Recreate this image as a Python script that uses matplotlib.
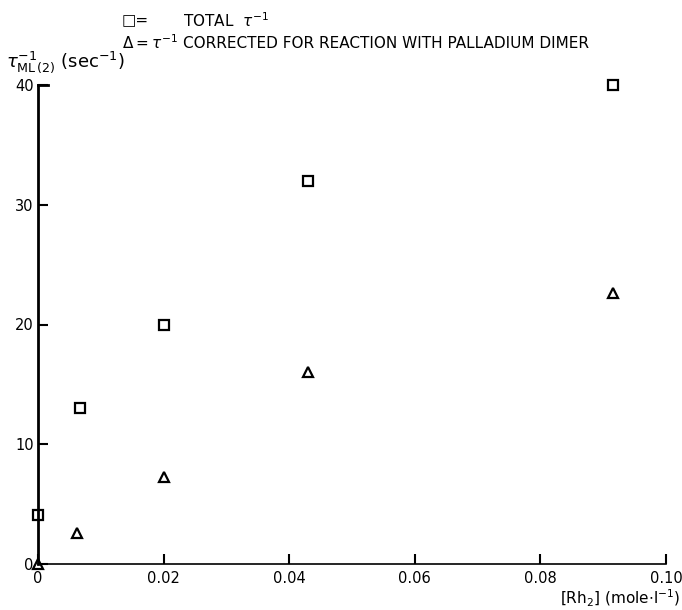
import matplotlib.pyplot as plt

# data
conc_total = [0.0, 0.0067, 0.020, 0.043, 0.0915]
rate_total = [4.1, 13.0, 20.0, 32.0, 40.0]

conc_corr = [0.0, 0.0062, 0.020, 0.043, 0.0915]
rate_corr = [0.0, 2.6, 7.3, 16.0, 22.6]

xticks = [0, 0.02, 0.04, 0.06, 0.08, 0.10]
xticklabels = ["0", "0.02", "0.04", "0.06", "0.08", "0.10"]
yticks = [0, 10, 20, 30, 40]

plt.rcParams['font.family'] = ['DejaVu Sans']

W, H = 682, 610
fig = plt.figure(figsize=(6.82, 6.10), dpi=100)
ax = fig.add_axes([38/W, 1 - 564/H, (666 - 38)/W, (564 - 85)/H])

ax.plot(conc_total, rate_total, linestyle='none', marker='s', markersize=7.5,
        markerfacecolor='white', markeredgecolor='black', markeredgewidth=1.6, clip_on=False)
ax.plot(conc_corr, rate_corr, linestyle='none', marker='^', markersize=7.5,
        markerfacecolor='white', markeredgecolor='black', markeredgewidth=1.6, clip_on=False)

ax.set_xlim(0, 0.10)
ax.set_ylim(0, 40)
ax.spines['top'].set_visible(False)
ax.spines['right'].set_visible(False)
ax.spines['left'].set_linewidth(2)
ax.spines['bottom'].set_linewidth(1.2)

ax.set_xticks(xticks)
ax.set_xticklabels(xticklabels)
ax.set_yticks(yticks)
ax.tick_params(direction='in', length=7, width=1.5, labelsize=10.5)
ax.tick_params(axis='x', pad=5)
ax.tick_params(axis='y', pad=3)

# little hook at the top of the y axis
ax.plot([0, 0.0016], [40, 40], color='black', lw=2, clip_on=False)

# legend text written above the plot
fig.text(122/W, 1 - 21/H, "\u25a1=", fontsize=11, va='center')
fig.text(183/W, 1 - 21/H, r"TOTAL  $\tau^{-1}$", fontsize=11, va='center')
fig.text(122/W, 1 - 43/H, r"$\Delta = \tau^{-1}$", fontsize=11, va='center')
fig.text(183/W, 1 - 43/H, "CORRECTED FOR REACTION WITH PALLADIUM DIMER", fontsize=11, va='center')

# axis titles
fig.text(6/W, 1 - 62/H, r"$\tau_{\rm ML\,(2)}^{-1}$ (sec$^{-1}$)", fontsize=13, va='center')
fig.text(1 - 2/W, 1 - 598/H, r"$\left[\rm Rh_2\right]$ (mole$\cdot$l$^{-1}$)", fontsize=11,
         ha='right', va='center')

fig.savefig("out.png", dpi=100)
